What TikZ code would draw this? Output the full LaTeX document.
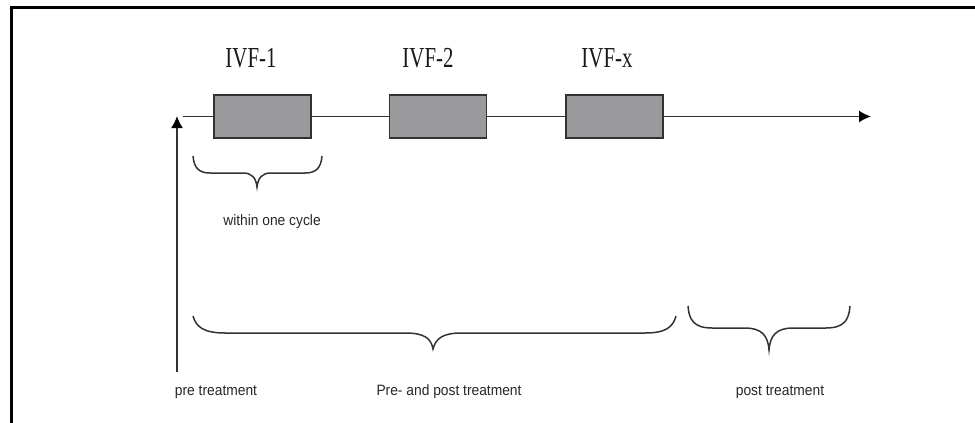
\documentclass[tikz,border=0pt]{standalone}
\usepackage{fontspec}
\setmainfont{Liberation Serif}
\newfontfamily\ivffont[FakeStretch=0.72]{Liberation Serif}
\newfontfamily\lblfont[FakeStretch=0.92]{Liberation Sans}
\usetikzlibrary{arrows.meta}
\definecolor{boxgray}{RGB}{154,154,156}
\definecolor{linegray}{RGB}{50,50,50}
\begin{document}
\begin{tikzpicture}[x=1pt,y=-1pt,
  ivfbox/.style={draw=linegray,line width=1.8pt,fill=boxgray,minimum width=97pt,minimum height=43pt,inner sep=0pt},
  ivflabel/.style={font=\ivffont\fontsize{29}{30}\selectfont,inner sep=0pt,text=black!90},
  sanslabel/.style={font=\lblfont\fontsize{15}{16}\selectfont,inner sep=0pt,text=black!85},
  bracestyle/.style={draw=linegray,line width=1.5pt},
  axis/.style={draw=linegray,line width=1.7pt},
  tip/.style={-{Latex[length=12pt,width=12pt,fill=black,color=black]}}]
\useasboundingbox (0,0) rectangle (975,423);
% frame (cropped)
\draw[line width=3pt,black] (11,423) -- (11,7) -- (975,7);
% timeline
\coordinate (tstart) at (183,116.5);
\coordinate (tend) at (871,116.5);
\draw[axis,tip] (tstart) -- (tend);
% vertical arrow
\coordinate (vbot) at (177,372);
\coordinate (vtop) at (177,116);
\draw[axis,tip] (vbot) -- (vtop);
% boxes
\node[ivfbox] (b1) at (262.5,116.5) {};
\node[ivfbox] (b2) at (438,116.5) {};
\node[ivfbox] (b3) at (614.5,116.5) {};
% labels
\node[ivflabel] (l1) at (251,58) {IVF-1};
\node[ivflabel] (l2) at (428,58) {IVF-2};
\node[ivflabel] (l3) at (607,58) {IVF-x};
% small brace
\draw[bracestyle] (193,156) .. controls (194,168) and (199,173) .. (210,173)
  -- (243,173) .. controls (252,173) and (256,178) .. (257,187)
  .. controls (258,178) and (262,173) .. (271,173)
  -- (305,173) .. controls (316,173) and (321,168) .. (322,156);
\coordinate (sbtip) at (257,187);
\node[sanslabel] (wc) at (272,222) {within one cycle};
% big brace
\draw[bracestyle] (193,316) .. controls (196,327) and (204,333) .. (225,333)
  -- (405,333) .. controls (424,333) and (431,338) .. (433,349)
  .. controls (436,338) and (443,333) .. (462,333)
  -- (645,333) .. controls (666,333) and (673,327) .. (676,316);
\coordinate (bbtip) at (433,349);
% right brace
\draw[bracestyle] (688,306) .. controls (689,320) and (694,328) .. (712,328)
  -- (745,328) .. controls (762,328) and (768,336) .. (769,350)
  .. controls (770,336) and (776,328) .. (793,328)
  -- (826,328) .. controls (844,328) and (849,320) .. (850,306);
\coordinate (rbtip) at (769,350);
% bottom labels
\node[sanslabel] (pre) at (216,392) {pre treatment};
\node[sanslabel] (prepost) at (449,392) {Pre- and post treatment};
\node[sanslabel] (post) at (780,392) {post treatment};
\end{tikzpicture}
\end{document}
